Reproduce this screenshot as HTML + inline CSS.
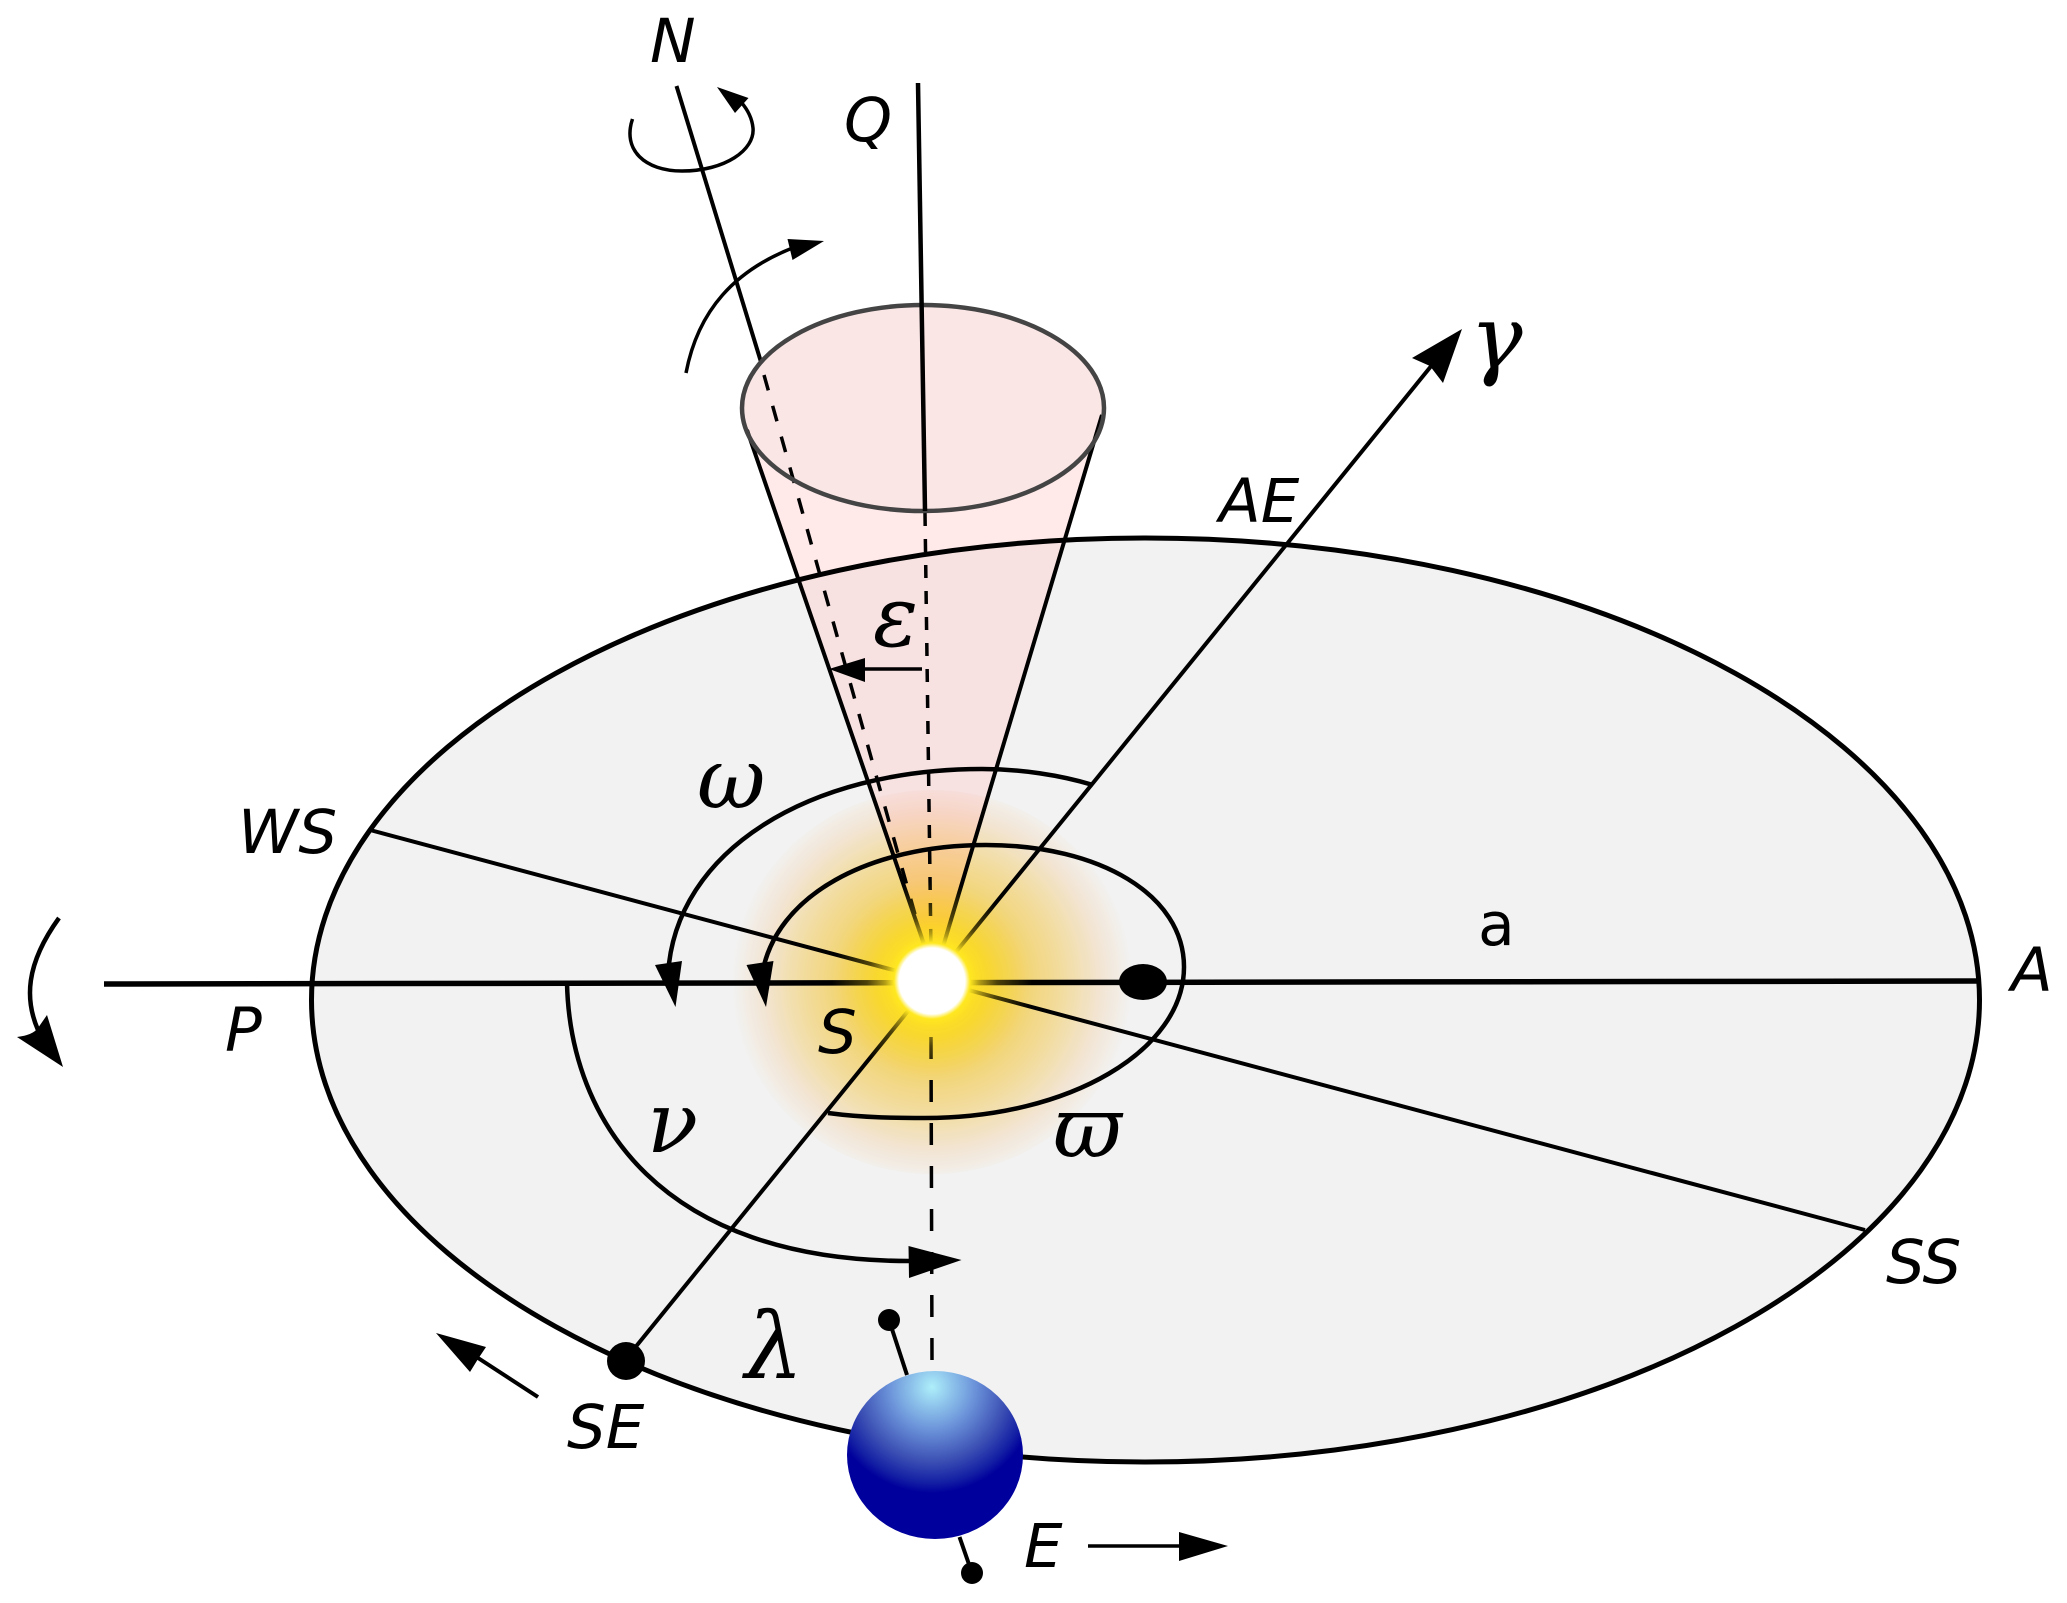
<!DOCTYPE html>
<html><head><meta charset="utf-8"><style>
html,body{margin:0;padding:0;background:#fff}
svg{display:block}
.l{font-family:"DejaVu Sans",sans-serif;font-style:oblique;font-size:61px;fill:#000}
.g{font-family:"DejaVu Serif",serif;font-style:italic;fill:#000}
</style></head><body>
<svg width="2067" height="1603" viewBox="0 0 2067 1603" xmlns="http://www.w3.org/2000/svg">
<defs>
<radialGradient id="earth" gradientUnits="userSpaceOnUse" cx="932" cy="1387" r="106">
<stop offset="0" stop-color="#aeeffa"/><stop offset=".15" stop-color="#94ccee"/><stop offset=".4" stop-color="#6c94da"/><stop offset=".7" stop-color="#3c50b4"/><stop offset=".9" stop-color="#1420a4"/><stop offset="1" stop-color="#00009c"/>
</radialGradient>
<radialGradient id="glow" gradientUnits="userSpaceOnUse" cx="932" cy="982" r="200">
<stop offset="0" stop-color="#ffdc20"/><stop offset=".28" stop-color="#ffe040"/><stop offset=".45" stop-color="#ffe078"/><stop offset=".65" stop-color="#ffe8a8"/><stop offset=".85" stop-color="#fff2e0"/><stop offset="1" stop-color="#fff"/>
</radialGradient>
<radialGradient id="core" gradientUnits="userSpaceOnUse" cx="932" cy="981" r="100">
<stop offset="0" stop-color="#fff"/><stop offset=".33" stop-color="#fff"/><stop offset=".38" stop-color="#ffe820"/><stop offset=".47" stop-color="#ffe020" stop-opacity=".7"/><stop offset=".65" stop-color="#ffd820" stop-opacity=".3"/><stop offset="1" stop-color="#ffd820" stop-opacity="0"/>
</radialGradient>
</defs>
<ellipse cx="1145.5" cy="1000" rx="834" ry="462" fill="#f2f2f2"/>
<path d="M747,430 L926,950 L942,950 L1102,415 Z" fill="#ffc8c8" fill-opacity=".4"/>
<ellipse cx="1145.5" cy="1000" rx="834" ry="462" fill="none" stroke="#000" stroke-width="5"/>
<ellipse cx="923" cy="408" rx="181" ry="103" fill="#fbe6e6"/>
<g fill="none" stroke="#000" stroke-width="4">
<path d="M676.5,86 L761,362"/>
<path d="M747,430 L926,950"/>
<path d="M1102,415 L942,950"/>
<path d="M764,375 L925,950" stroke-dasharray="16 16" stroke-width="3.5"/>
<path d="M925,513 L931,950" stroke-dasharray="13 13" stroke-width="3.5"/>
<path d="M931,1037 L932,1360" stroke-dasharray="22 21" stroke-width="3.5"/>
<path d="M370,830 L1865,1230"/>
<path d="M625,1360 L1432,365"/>
<path d="M104,984 L1980,981" stroke-width="5.5"/>
<path d="M632.5,119 C622,150 645,171 682,171 C725,171 755,150 753,128 C752,118 748,110 741,102" stroke-width="3.5"/>
<path d="M686,373 C698,310 735,270 795,247" stroke-width="3.5"/>
<path d="M59,918 C25,965 25,1000 38,1030" stroke-width="4.5"/>
<path d="M1093,785 C1060,775 1020,769 982,769 C810,769 675,850 668,975" stroke-width="4.5"/>
<path d="M828,1113 C865,1118 900,1118 925,1118 C1070,1118 1184,1050 1184,967 C1184,895 1100,845 986,845 C870,845 775,895 762,975" stroke-width="4.5"/>
<path d="M567,983 C570,1120 660,1262 912,1261" stroke-width="4.5"/>
<path d="M922,669 L860,669" stroke-width="3.5"/>
<path d="M538,1397 L475,1356" stroke-width="4"/>
<path d="M1088,1546 L1185,1546" stroke-width="3.5"/>
<path d="M889,1320 L907,1375" stroke-width="4"/>
<path d="M959.5,1537 L972,1573" stroke-width="4"/>
</g>
<ellipse cx="923" cy="408" rx="181" ry="103" fill="none" stroke="#444" stroke-width="4.5"/>
<path d="M918,83 L925,511" stroke="#000" stroke-width="4.5" fill="none"/>
<g fill="#000">
<path d="M717,87 L748.5,98 L735,113 Z"/>
<path d="M824,241 L787.5,239 L792.5,260 Z"/>
<path d="M63,1067 L17,1037 Q33,1035 38,1028 L47,1015 Z"/>
<path d="M1462,329 L1412,358 L1430,366 L1443,383 Z"/>
<path d="M829,669 L865,658 L865,682 Z"/>
<path d="M675.5,1007 L655,965 L682,961 Z"/>
<path d="M766,1007 L746.5,965 L773.5,961 Z"/>
<path d="M961.5,1260 L908.5,1246 L909,1278 Z"/>
<path d="M1228,1546 L1179,1532 L1179,1561 Z"/>
<path d="M436,1333 L486,1347 L478,1359 L470,1372 Z"/>
<ellipse cx="1143" cy="982" rx="24" ry="18"/>
<circle cx="626" cy="1361" r="19"/>
<circle cx="889" cy="1320" r="11"/>
<circle cx="972" cy="1573" r="11"/>
</g>
<ellipse cx="932" cy="982" rx="200" ry="192" fill="url(#glow)" style="mix-blend-mode:multiply"/>
<circle cx="932" cy="981" r="100" fill="url(#core)"/>
<ellipse cx="935" cy="1455" rx="88" ry="84" fill="url(#earth)"/>
<text class="l" x="650" y="62">N</text>
<text class="l" x="844" y="141">Q</text>
<text class="l" x="1219" y="522">AE</text>
<text class="l" x="238" y="853">WS</text>
<text class="l" x="225" y="1051">P</text>
<text class="l" x="818" y="1053">S</text>
<text class="l" x="2011" y="991">A</text>
<text class="l" x="1886" y="1283">SS</text>
<text class="l" x="567" y="1448">SE</text>
<text class="l" x="1024" y="1567">E</text>
<text x="1478" y="945" font-family="'DejaVu Sans',sans-serif" font-size="60">a</text>
<text class="g" x="1470" y="368" font-size="88">γ</text>
<text class="g" x="873" y="646" font-size="84">ε</text>
<text class="g" x="697" y="808" font-size="84">ω</text>
<text class="g" x="647" y="1152" font-size="84">ν</text>
<text class="g" x="1053" y="1157" font-size="84">ϖ</text>
<text class="g" x="745" y="1378" font-size="92">λ</text>
</svg>
</body></html>
